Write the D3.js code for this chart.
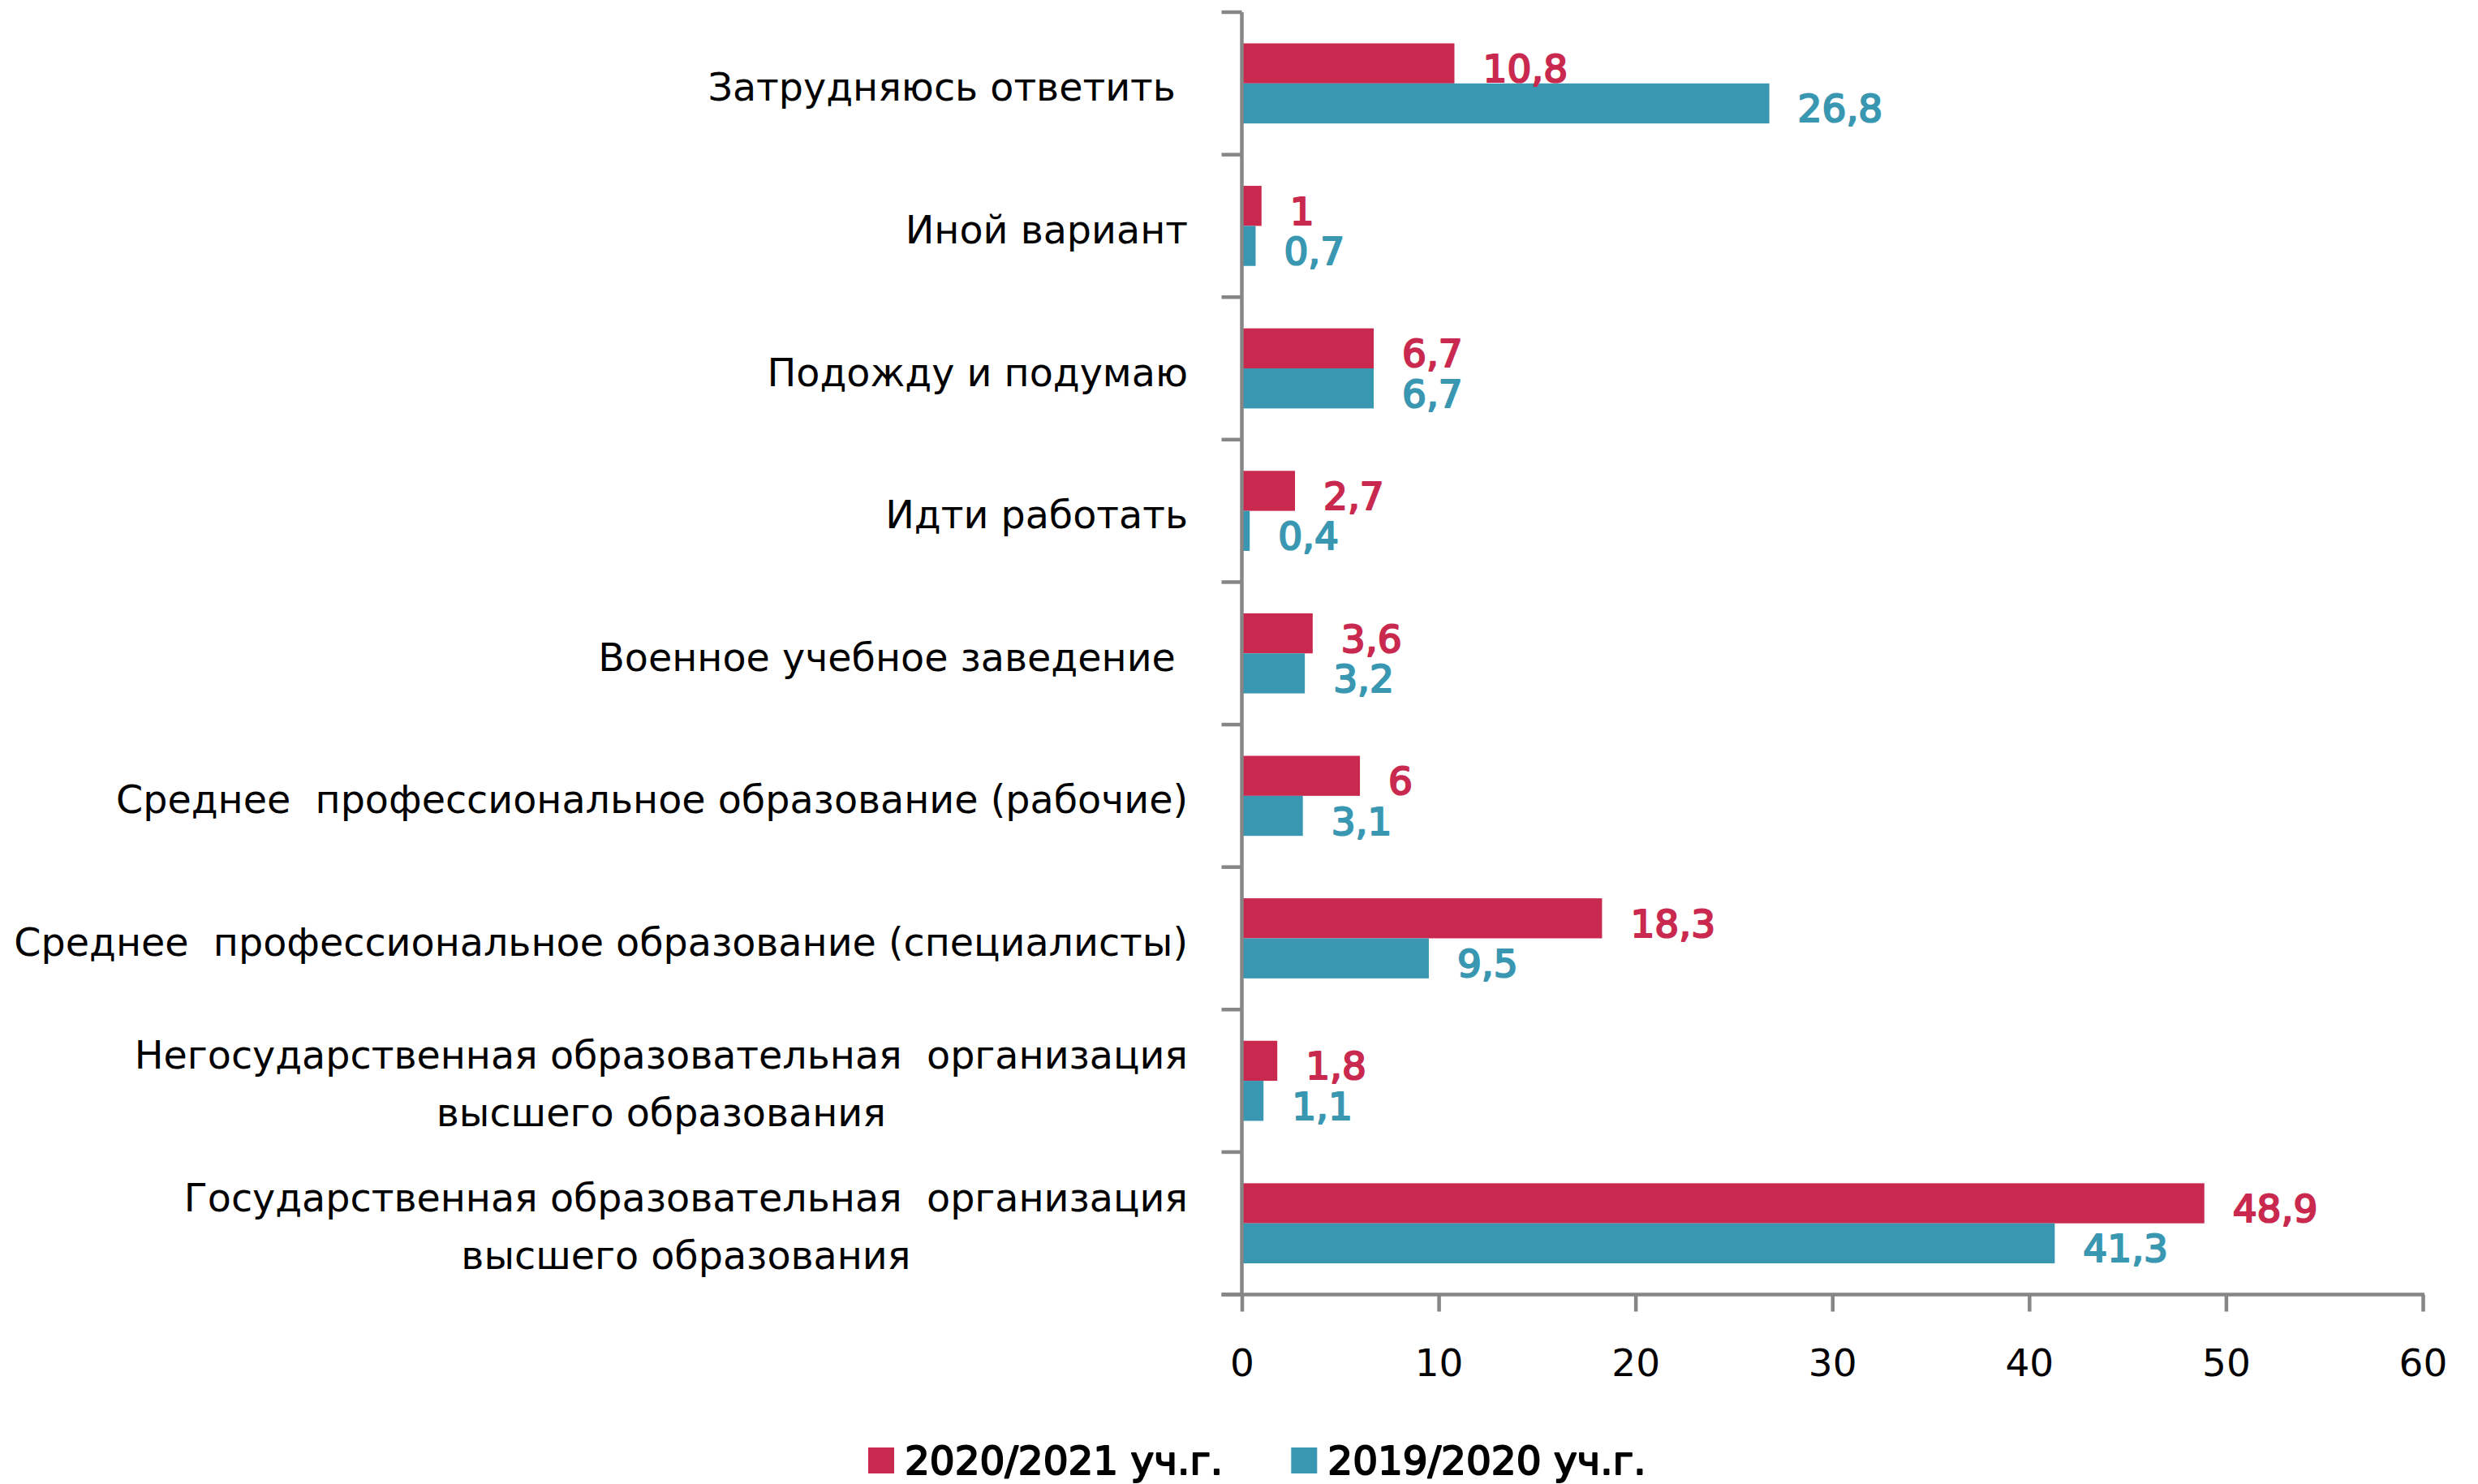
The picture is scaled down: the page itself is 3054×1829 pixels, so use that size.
<!DOCTYPE html>
<html><head><meta charset="utf-8">
<script src="https://cdn.jsdelivr.net/npm/d3@7"></script>
<style>
html,body{margin:0;padding:0;background:#fff}
svg{display:block}
text{font-family:"DejaVu Sans",Verdana,sans-serif}
</style>
</head><body>
<svg id="chart" width="3054" height="1829"></svg>
<script>
// ---- data ----
const categories = [
  "Затрудняюсь ответить ",
  "Иной вариант",
  "Подожду и подумаю",
  "Идти работать",
  "Военное учебное заведение ",
  "Среднее  профессиональное образование (рабочие)",
  "Среднее  профессиональное образование (специалисты)",
  "Негосударственная образовательная  организация\nвысшего образования",
  "Государственная образовательная  организация\nвысшего образования"
];
const values2021 = [10.8, 1, 6.7, 2.7, 3.6, 6, 18.3, 1.8, 48.9];
const values2020 = [26.8, 0.7, 6.7, 0.4, 3.2, 3.1, 9.5, 1.1, 41.3];
const seriesNames = ["2020/2021 уч.г.", "2019/2020 уч.г."];
const xTicks = [0, 10, 20, 30, 40, 50, 60];

// ---- styles ----
const RED = "#C9294E", TEAL = "#3A97B2", AXIS = "#868686";
const FS = 47;

const svg = d3.select("#chart");
const x = d3.scaleLinear().domain([0, 60]).range([1530.5, 2986]);
const y = d3.scaleBand().domain(categories).range([15, 1595.5]).padding(0);
const barH = y.step() * 0.281;

const series = [
  {name: seriesNames[0], values: values2021, color: RED, off: -1},
  {name: seriesNames[1], values: values2020, color: TEAL, off: 0}
];

// bars
series.forEach(s => {
  svg.append("g").selectAll("rect").data(categories).join("rect")
    .attr("x", x(0))
    .attr("y", c => y(c) + y.bandwidth() / 2 + s.off * barH)
    .attr("width", (c, i) => x(s.values[i]) - x(0))
    .attr("height", barH)
    .attr("fill", s.color);
});

// value labels
const fmt = v => String(v).replace(".", ",");
series.forEach(s => {
  svg.append("g").selectAll("text").data(categories).join("text")
    .attr("x", (c, i) => x(s.values[i]) + 35)
    .attr("y", c => y(c) + y.bandwidth() / 2 + s.off * barH + barH / 2 + 23)
    .attr("font-size", FS)
    .attr("fill", s.color)
    .attr("stroke", s.color)
    .attr("stroke-width", 2.2)
    .attr("stroke-linejoin", "round")
    .text((c, i) => fmt(s.values[i]));
});

// category axis (left)
const gy = svg.append("g");
gy.append("line")
  .attr("x1", x(0)).attr("x2", x(0))
  .attr("y1", y.range()[0]).attr("y2", y.range()[1])
  .attr("stroke", AXIS).attr("stroke-width", 4.5);
const bounds = categories.map(c => y(c)).concat([y.range()[1]]);
gy.selectAll("line.t").data(bounds).join("line").attr("class", "t")
  .attr("x1", x(0) - 25).attr("x2", x(0))
  .attr("y1", d => d).attr("y2", d => d)
  .attr("stroke", AXIS).attr("stroke-width", 4.5);

// category labels
const LABEL_RIGHT = 1464;
categories.forEach(c => {
  const lines = c.split("\n");
  const cy = y(c) + y.bandwidth() / 2;
  const t = svg.append("text")
    .attr("font-size", 47.6)
    .attr("fill", "#000")
    .style("white-space", "pre");
  if (lines.length === 1) {
    t.attr("x", LABEL_RIGHT).attr("y", cy + 21.5)
      .attr("text-anchor", "end").text(lines[0]);
  } else {
    const spans = lines.map((l, k) => t.append("tspan")
      .attr("y", cy + (k === 0 ? -15 : 56)).text(l));
    const widths = spans.map(sp => sp.node().getComputedTextLength());
    const mid = LABEL_RIGHT - d3.max(widths) / 2;
    t.attr("text-anchor", "middle");
    spans.forEach(sp => sp.attr("x", mid));
  }
});

// value axis (bottom)
const gx = svg.append("g").attr("transform", `translate(0,${y.range()[1]})`)
  .call(d3.axisBottom(x).tickValues(xTicks).tickSize(21).tickSizeOuter(0).tickPadding(0).tickFormat(d3.format("d")));
gx.select(".domain").attr("stroke", AXIS).attr("stroke-width", 4.5)
  .attr("d", `M${x(0) - 25},0H${x(60) + 2}`);
gx.selectAll(".tick line").attr("stroke", AXIS).attr("stroke-width", 4.5);
gx.selectAll(".tick text")
  .attr("font-size", FS).attr("fill", "#000")
  .attr("font-family", "DejaVu Sans, Verdana, sans-serif")
  .attr("dy", null).attr("y", 100);

// legend
const lg = svg.append("g");
let lx = 1070;
series.forEach(s => {
  lg.append("rect").attr("x", lx).attr("y", 1784).attr("width", 32).attr("height", 32).attr("fill", s.color);
  const t = lg.append("text").attr("x", lx + 45).attr("y", 1817)
    .attr("font-size", 48.5).attr("fill", "#000")
    .attr("stroke", "#000").attr("stroke-width", 2).attr("stroke-linejoin", "round")
    .style("white-space", "pre")
    .text(s.name);
  lx = lx + 45 + t.node().getComputedTextLength() + 84;
});
</script>
</body></html>
